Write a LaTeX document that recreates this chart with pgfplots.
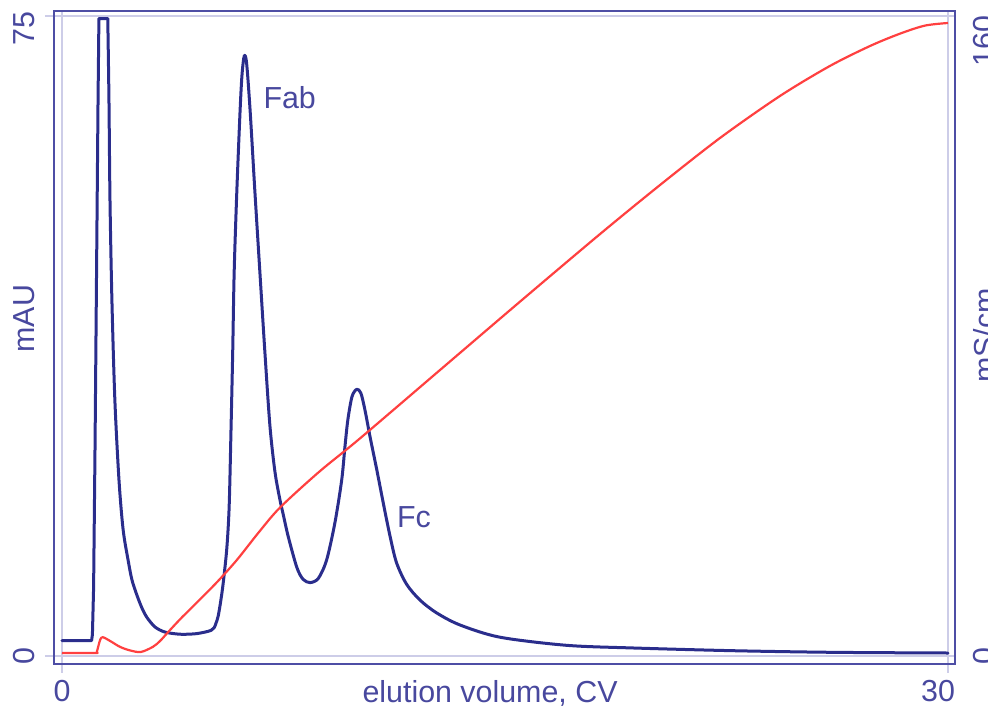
\documentclass[border=0pt]{standalone}
\usepackage{fontspec}
\setmainfont{Liberation Sans}
\usepackage{pgfplots}
\pgfplotsset{compat=1.18}
\definecolor{curveblue}{RGB}{42,45,140}
\definecolor{txtblue}{RGB}{72,72,158}
\definecolor{frameblue}{RGB}{78,78,165}
\definecolor{gridlav}{RGB}{205,205,232}
\definecolor{condred}{RGB}{255,64,64}
\begin{document}
\begin{tikzpicture}[font=\fontsize{15.2}{18}\selectfont]
\begin{axis}[
  name=main,
  scale only axis, width=450.5pt, height=326.5pt,
  xmin=-0.2709, xmax=30.237, ymin=-0.9375, ymax=75.586,
  axis line style={frameblue, line width=1.3pt},
  xtick={0,30}, xticklabels={0,\llap{30\kern-3.5pt}},
  ytick={0,75}, yticklabels={0,\llap{75\kern-2pt}},
  tick pos=left, tick align=outside, major tick length=4.5pt,
  major tick style={gridlav, line width=1pt},
  grid=major, major grid style={gridlav, line width=1pt},
  every tick label/.append style={text=txtblue, inner sep=0pt},
  yticklabel style={rotate=90, anchor=south},
  xticklabel style={anchor=north},
  xticklabel shift=3.5pt, yticklabel shift=5pt,
  xlabel={elution volume, CV},
  xlabel style={at={(axis description cs:0.484,-0.0245)}, anchor=north, inner sep=0pt, text=txtblue},
  ylabel={mAU},
  ylabel style={at={(axis description cs:-0.0211,0.529)}, anchor=south, inner sep=0pt, text=txtblue},
]
% injection peak (off scale, flat top)
\addplot[curveblue, line width=1.5pt, line join=round, line cap=round] coordinates {
(0,1.8) (1.00,1.8) (1.03,2.5) (1.07,8) (1.12,25) (1.17,45) (1.22,65) (1.25,74.7)
(1.55,74.7)
};
\addplot[curveblue, line width=1.5pt, line join=round, line cap=round, smooth, tension=0.5] coordinates {
(1.55,74.7) (1.59,65.2) (1.625,53.4) (1.69,41.7) (1.79,30.0) (1.93,20.6) (2.07,14.8)
(2.24,11.2) (2.37,8.9) (2.54,7.1) (2.71,5.6) (2.88,4.5) (3.15,3.4) (3.49,2.8) (4.0,2.55)
(4.5,2.6) (4.84,2.8) (5.045,3.0) (5.15,3.3) (5.22,3.9) (5.29,4.7) (5.38,6.56) (5.46,8.6)
(5.58,12.6) (5.66,17.5) (5.72,26.1) (5.78,35.6) (5.83,45.0) (5.92,54.5) (6.03,63.9)
(6.095,68.1) (6.17,70.3) (6.25,69.5) (6.37,63.9) (6.53,54.5) (6.70,45.0) (6.87,35.6)
(7.04,27.0) (7.21,21.6) (7.38,18.3) (7.49,16.6) (7.66,14.0) (7.95,10.4) (8.16,9.0)
(8.40,8.6) (8.68,9.1) (8.96,11.25) (9.24,15.6) (9.47,20.6) (9.58,24.5) (9.68,27.7)
(9.82,30.4) (9.98,31.25) (10.12,30.8) (10.26,28.8) (10.43,25.7) (10.66,21.8) (10.88,17.9)
(11.11,14.0) (11.33,10.9) (11.67,8.4) (12.12,6.56) (12.69,5.04) (13.48,3.63) (14.83,2.2)
(17.09,1.25) (19.33,0.94) (22.72,0.62) (26.1,0.43) (30,0.35)
};
\node[anchor=base west, text=txtblue, inner sep=0pt] at (axis cs:6.81,64.2) {Fab};
\node[anchor=base west, text=txtblue, inner sep=0pt] at (axis cs:11.33,15.0) {Fc};
\end{axis}
\begin{axis}[
  scale only axis, width=450.5pt, height=326.5pt,
  xmin=-0.2709, xmax=30.237, ymin=-2, ymax=161.25,
  hide x axis, axis y line*=right,
  y axis line style={frameblue, line width=1.3pt},
  ytick={0,160}, yticklabels={0,\llap{160}},
  major tick length=0pt,
  every tick label/.append style={text=txtblue, inner sep=0pt},
  yticklabel style={rotate=90, anchor=north},
  yticklabel shift=9pt,
  ylabel={mS/cm},
  ylabel style={at={(axis description cs:1.02,0.503)}, anchor=north, inner sep=0pt, text=txtblue},
]
\addplot[condred, line width=1.1pt, line join=round, smooth, tension=0.5] coordinates {
(0,0.75) (1.12,0.75) (1.18,1.1) (1.29,4.0) (1.38,4.7) (1.63,3.75) (1.96,2.3) (2.30,1.4)
(2.67,1.0) (3.08,2.3) (3.32,3.75) (3.56,5.7) (4.00,9.2) (4.45,12.5) (5.24,18.4) (5.92,24.0)
(6.65,30.8) (7.38,37.1) (8.7,46.0) (10.09,54.4) (12.80,71.5) (15.51,88.6) (18.22,105.5)
(20.25,117.75) (22.28,129.5) (24.31,140.0) (26.00,147.5) (27.36,152.5) (28.38,155.6)
(29.22,157.6) (30.0,158.25)
};
\end{axis}
\pgfresetboundingbox
\path[use as bounding box] ([shift={(-27pt,-21.5pt)}]main.south west) rectangle ([shift={(16.5pt,5.5pt)}]main.north east);
\end{tikzpicture}
\end{document}
